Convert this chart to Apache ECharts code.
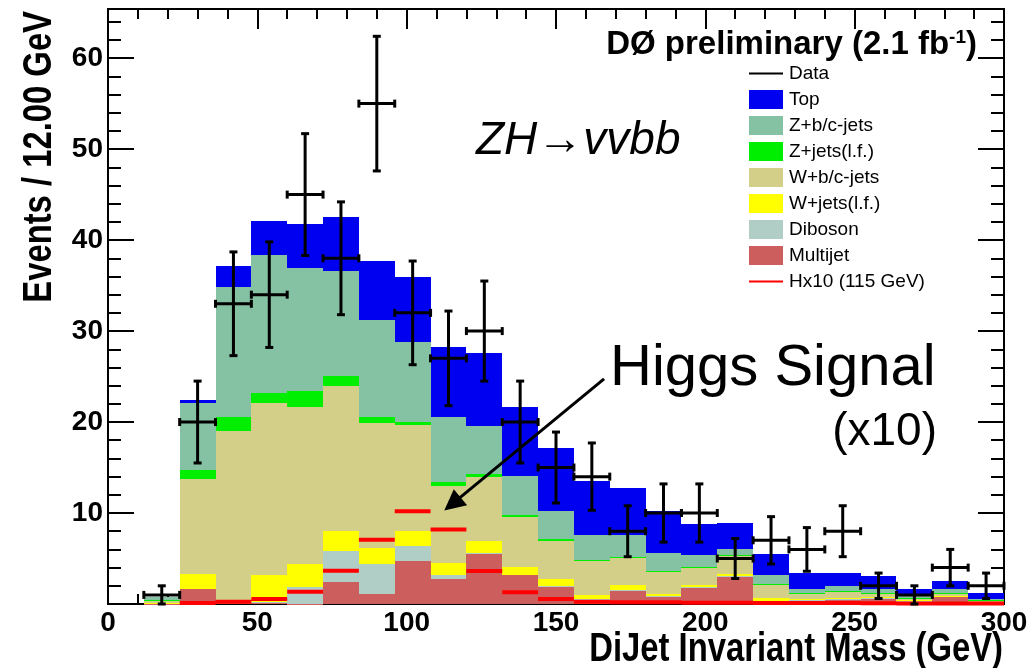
<!DOCTYPE html>
<html>
<head>
<meta charset="utf-8">
<script src="https://cdn.jsdelivr.net/npm/echarts@6/dist/echarts.min.js"></script>
<style>
  html, body { margin: 0; padding: 0; background: #fff; }
  #chart { width: 1036px; height: 668px; }
</style>
</head>
<body>
<div id="chart"></div>
<script>
// Dijet invariant mass, 12 GeV bins (lower bin edges)
const binLow = [12, 24, 36, 48, 60, 72, 84, 96, 108, 120, 132, 144, 156, 168, 180, 192, 204, 216, 228, 240, 252, 264, 276, 288];
const binWidth = 12;

// Background expectations per bin (events), listed bottom-to-top of the stack
const multijet = [0.05, 1.7, 0.1, 0.2, 0.05, 2.45, 1.1, 4.75, 2.7, 5.5, 3.15, 1.9, 0.5, 1.45, 0.8, 1.83, 3.0, 0.3, 0.35, 0.45, 0.6, 0.3, 0.8, 0.2];
const diboson  = [0, 0, 0, 0.05, 1.85, 3.4, 3.25, 1.6, 0.45, 0.08, 0, 0.1, 0.05, 0.05, 0.05, 0.05, 0.05, 0.05, 0.05, 0.05, 0.05, 0.05, 0.05, 0.05];
const wLight   = [0.1, 1.6, 0.1, 2.9, 2.55, 2.2, 1.86, 1.7, 1.4, 1.3, 0.95, 0.75, 0.48, 0.63, 0.3, 0.25, 0.25, 0.26, 0.15, 0.15, 0.1, 0.05, 0.05, 0.03];
const wHeavy   = [0.25, 10.4, 18.8, 18.9, 17.2, 15.9, 13.7, 11.6, 8.4, 7.1, 5.5, 4.2, 3.7, 2.9, 2.37, 1.82, 2.07, 1.46, 0.6, 0.65, 0.4, 0.2, 0.3, 0.1];
const zLight   = [0.05, 1.0, 1.5, 1.1, 1.8, 1.1, 0.6, 0.4, 0.5, 0.3, 0.23, 0.16, 0.15, 0.15, 0.1, 0.1, 0.05, 0.1, 0.08, 0.08, 0.05, 0.03, 0.05, 0.02];
const zHeavy   = [0.3, 7.4, 14.3, 15.2, 13.5, 11.6, 10.7, 8.7, 7.15, 5.34, 4.2, 3.15, 2.73, 2.44, 1.97, 1.39, 0.66, 0.98, 0.45, 0.6, 0.5, 0.5, 0.45, 0.2];
const topQuark = [0, 0.3, 2.3, 3.7, 4.8, 5.9, 6.5, 7.2, 7.65, 8.0, 7.6, 6.85, 5.95, 5.1, 4.6, 3.32, 2.81, 2.3, 1.75, 1.45, 1.43, 0.47, 0.88, 0.6];

// ZH signal (115 GeV) scaled by 10, drawn unstacked
const higgsX10 = [null, 0.1, 0.25, 0.55, 1.36, 3.66, 7.05, 10.2, 8.2, 3.62, 1.3, 0.55, 0.25, 0.2, 0.2, 0.15, 0.15, 0.1, 0.1, 0.1, 0.08, 0.05, 0.05, 0.05];

// Observed data: bin centres, counts and statistical errors
const dataCenters = [18, 30, 42, 54, 66, 78, 90, 102, 114, 126, 138, 150, 162, 174, 186, 198, 210, 222, 234, 246, 258, 270, 282, 294];
const dataCounts  = [1, 20, 33, 34, 45, 38, 55, 32, 27, 30, 20, 15, 14, 8, 10, 10, 5, 7, 6, 8, 2, 1, 4, 2];
const dataErrors  = [1.0, 4.5, 5.7, 5.8, 6.7, 6.2, 7.4, 5.7, 5.2, 5.5, 4.5, 3.9, 3.7, 2.8, 3.2, 3.2, 2.2, 2.6, 2.4, 2.8, 1.4, 1.0, 2.0, 1.4];

// Annotation arrow endpoints (GeV, events)
const arrowFrom = [166.1, 24.75];
const arrowTo   = [115.3, 11.0];

const yMax = 65.4;

const components = [
  { name: 'Multijet',     values: multijet, color: '#cd5e5e' },
  { name: 'Diboson',      values: diboson,  color: '#b0cec5' },
  { name: 'W+jets(l.f.)', values: wLight,   color: '#ffff00' },
  { name: 'W+b/c-jets',   values: wHeavy,   color: '#d3ce88' },
  { name: 'Z+jets(l.f.)', values: zLight,   color: '#00ee00' },
  { name: 'Z+b/c-jets',   values: zHeavy,   color: '#84c2a3' },
  { name: 'Top',          values: topQuark, color: '#0000f0' }
];

const textFont = "'Liberation Sans', Arial, Helvetica, sans-serif";

function renderBin(params, api) {
  const lo = api.value(0), hi = api.value(1), y0 = api.value(2), y1 = api.value(3);
  if (!(y1 > y0)) return null;
  const p0 = api.coord([lo, y0]);
  const p1 = api.coord([hi, y1]);
  const x = Math.round(p0[0]);
  const x2 = Math.round(p1[0]);
  const yTop = Math.round(p1[1]);
  const yBot = Math.round(p0[1]);
  return {
    type: 'rect',
    shape: { x: x, y: yTop, width: x2 - x, height: Math.max(1, yBot - yTop) },
    style: { fill: api.visual('color') }
  };
}

function renderDataPoint(params, api) {
  const x = api.value(0), y = api.value(1), e = api.value(2);
  const L = api.coord([x - binWidth / 2, y]);
  const R = api.coord([x + binWidth / 2, y]);
  const T = api.coord([x, y + e]);
  const B = api.coord([x, y - e]);
  const cap = 4;
  const st = { stroke: '#000', lineWidth: 3 };
  const seg = (x1, y1, x2, y2) => ({ type: 'line', shape: { x1, y1, x2, y2 }, style: st });
  return {
    type: 'group',
    children: [
      seg(L[0], L[1], R[0], R[1]),
      seg(T[0], T[1], B[0], B[1]),
      seg(L[0], L[1] - cap, L[0], L[1] + cap),
      seg(R[0], R[1] - cap, R[0], R[1] + cap),
      seg(T[0] - cap, T[1], T[0] + cap, T[1]),
      seg(B[0] - cap, B[1], B[0] + cap, B[1])
    ]
  };
}

// Cumulative stacking of the background components
const base = binLow.map(() => 0);
const stackSeries = components.map(c => {
  const rows = binLow.map((lo, i) => {
    const b = base[i];
    base[i] += c.values[i];
    return [lo, lo + binWidth, b, base[i]];
  });
  return {
    type: 'custom',
    name: c.name,
    coordinateSystem: 'cartesian2d',
    xAxisIndex: 0,
    yAxisIndex: 0,
    itemStyle: { color: c.color },
    encode: { x: [0, 1], y: [2, 3] },
    data: rows,
    renderItem: renderBin,
    silent: true,
    z: 2
  };
});

// Signal as separate horizontal segments per bin
const higgsSegments = [];
binLow.forEach((lo, i) => {
  const v = higgsX10[i];
  if (v === null) return;
  higgsSegments.push([lo, v], [lo + binWidth, v], [lo + binWidth, null]);
});

const series = [
  {
    type: 'line',
    name: 'Data',
    data: [],
    symbol: 'none',
    lineStyle: { color: '#000', width: 2 },
    itemStyle: { color: '#000' }
  }
].concat(stackSeries, [
  {
    type: 'line',
    name: 'Hx10 (115 GeV)',
    data: higgsSegments,
    symbol: 'none',
    connectNulls: false,
    lineStyle: { color: '#ff0000', width: 4, cap: 'butt' },
    itemStyle: { color: '#ff0000' },
    silent: true,
    z: 3,
    markLine: {
      silent: true,
      animation: false,
      symbol: ['none', 'triangle'],
      symbolSize: 21,
      lineStyle: { color: '#000', width: 3, type: 'solid' },
      itemStyle: { color: '#000' },
      label: { show: false },
      emphasis: { disabled: true },
      data: [[{ coord: arrowFrom }, { coord: arrowTo }]]
    }
  },
  {
    type: 'custom',
    name: 'Data',
    coordinateSystem: 'cartesian2d',
    encode: { x: 0, y: 1 },
    data: dataCenters.map((c, i) => [c, dataCounts[i], dataErrors[i]]),
    renderItem: renderDataPoint,
    itemStyle: { color: '#000' },
    silent: true,
    z: 4
  }
]);

const axisCommon = {
  type: 'value',
  splitLine: { show: false },
  axisLine: { show: true, onZero: false, lineStyle: { color: '#000', width: 2 } },
  axisTick: { show: true, inside: true, lineStyle: { color: '#000', width: 2 } }
};

const tickLabelStyle = { color: '#000', fontFamily: textFont, fontWeight: 'bold', fontSize: 28 };

const xAxisBottom = Object.assign({}, axisCommon, {
  position: 'bottom', min: 0, max: 300, interval: 50,
  axisTick: { show: true, inside: true, length: 20, lineStyle: { color: '#000', width: 2 } },
  minorTick: { show: true, splitNumber: 5, length: 10, lineStyle: { color: '#000', width: 2 } },
  axisLabel: Object.assign({ show: true, margin: 5 }, tickLabelStyle)
});
const xAxisTop = Object.assign({}, axisCommon, {
  position: 'top', min: 0, max: 300, interval: 50,
  axisTick: { show: true, inside: true, length: 20, lineStyle: { color: '#000', width: 2 } },
  minorTick: { show: true, splitNumber: 5, length: 10, lineStyle: { color: '#000', width: 2 } },
  axisLabel: { show: false }
});

function yAxisDef(position, interval, tickLen, labels) {
  return Object.assign({}, axisCommon, {
    position: position, min: 0, max: yMax, interval: interval,
    axisTick: { show: true, inside: true, length: tickLen, lineStyle: { color: '#000', width: 2 } },
    axisLabel: labels ? Object.assign({
      show: true, margin: 5,
      showMinLabel: false, showMaxLabel: false,
      formatter: v => (v > 0 && v % 10 === 0) ? String(v) : ''
    }, tickLabelStyle) : { show: false }
  });
}

// Line-type legend entries: plain line without a marker
const lineLegendStyle = (w) => ({ lineStyle: { width: w }, itemStyle: { color: 'rgba(0,0,0,0)', borderColor: 'rgba(0,0,0,0)', borderWidth: 0 } });

const option = {
  animation: false,
  backgroundColor: '#fff',
  grid: { left: 108, right: 32, top: 9, bottom: 64, containLabel: false, outerBoundsMode: 'none' },
  xAxis: [xAxisBottom, xAxisTop],
  yAxis: [
    yAxisDef('left', 10, 26, true),
    yAxisDef('left', 2, 13, false),
    yAxisDef('right', 10, 26, false),
    yAxisDef('right', 2, 13, false)
  ],
  legend: {
    orient: 'vertical',
    left: 743,
    top: 59,
    padding: 5,
    itemWidth: 34,
    itemHeight: 19,
    itemGap: 7,
    selectedMode: false,
    textStyle: { color: '#000', fontFamily: textFont, fontSize: 19, padding: [0, 0, 0, 1] },
    data: [
      Object.assign({ name: 'Data' }, lineLegendStyle(2)),
      { name: 'Top', icon: 'rect' },
      { name: 'Z+b/c-jets', icon: 'rect' },
      { name: 'Z+jets(l.f.)', icon: 'rect' },
      { name: 'W+b/c-jets', icon: 'rect' },
      { name: 'W+jets(l.f.)', icon: 'rect' },
      { name: 'Diboson', icon: 'rect' },
      { name: 'Multijet', icon: 'rect' },
      Object.assign({ name: 'Hx10 (115 GeV)' }, lineLegendStyle(2))
    ]
  },
  graphic: [
    {
      type: 'text', x: 977, y: 28, z: 10, silent: true,
      style: {
        text: '{m|DØ preliminary (2.1 fb}{s|-1}{m|)}',
        align: 'right', textAlign: 'right', verticalAlign: 'top', textVerticalAlign: 'top',
        rich: {
          m: { fontFamily: textFont, fontWeight: 'bold', fontSize: 33, lineHeight: 34, fill: '#000', color: '#000' },
          s: { fontFamily: textFont, fontWeight: 'bold', fontSize: 19, lineHeight: 19, verticalAlign: 'top', fill: '#000', color: '#000' }
        }
      }
    },
    {
      type: 'text', x: 476, y: 141, z: 10, silent: true,
      style: {
        text: 'ZH\u2192vvbb', fill: '#000',
        font: 'italic 46px ' + textFont,
        align: 'left', textAlign: 'left', verticalAlign: 'middle', textVerticalAlign: 'middle'
      }
    },
    {
      type: 'text', x: 610, y: 369, z: 10, silent: true,
      style: {
        text: 'Higgs Signal', fill: '#000',
        font: '58px ' + textFont,
        align: 'left', textAlign: 'left', verticalAlign: 'middle', textVerticalAlign: 'middle'
      }
    },
    {
      type: 'text', x: 937, y: 432, z: 10, silent: true,
      style: {
        text: '(x10)', fill: '#000',
        font: '46px ' + textFont,
        align: 'right', textAlign: 'right', verticalAlign: 'middle', textVerticalAlign: 'middle'
      }
    },
    {
      type: 'text', x: 1003, y: 650, z: 10, silent: true, scaleX: 0.82,
      style: {
        text: 'DiJet Invariant Mass (GeV)', fill: '#000',
        font: 'bold 40px ' + textFont,
        align: 'right', textAlign: 'right', verticalAlign: 'middle', textVerticalAlign: 'middle'
      }
    },
    {
      type: 'text', x: 40, y: 11, z: 10, silent: true, rotation: Math.PI / 2, scaleX: 0.82,
      style: {
        text: 'Events / 12.00 GeV', fill: '#000',
        font: 'bold 40px ' + textFont,
        align: 'right', textAlign: 'right', verticalAlign: 'middle', textVerticalAlign: 'middle'
      }
    }
  ],
  series: series
};

const chart = echarts.init(document.getElementById('chart'), null, { renderer: 'canvas' });
chart.setOption(option);
</script>
</body>
</html>
